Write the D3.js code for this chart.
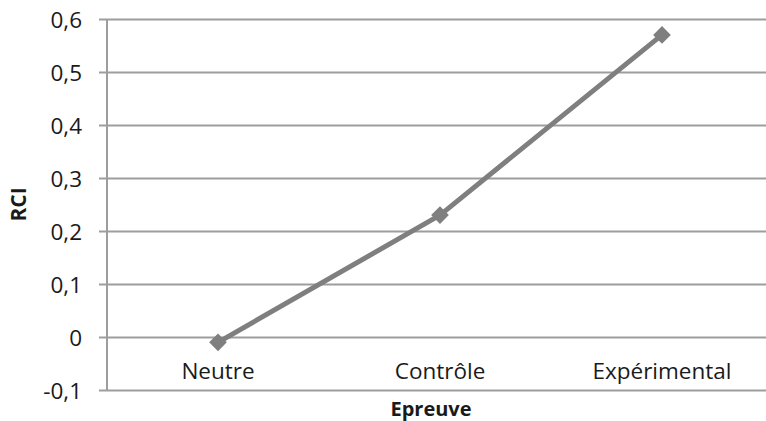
<!DOCTYPE html>
<html>
<head>
<meta charset="utf-8">
<script src="https://cdn.jsdelivr.net/npm/d3@7"></script>
<style>
  body { margin: 0; background: #fff; }
  svg { display: block; }
  text { font-family: "Open Sans", "Noto Sans", sans-serif; fill: #1a1a1a; }
</style>
</head>
<body>
<svg id="chart" width="766" height="421"></svg>
<script>
const categories = ["Neutre", "Contrôle", "Expérimental"];
const values = [-0.01, 0.23, 0.57];
const yTicks = [-0.1, 0, 0.1, 0.2, 0.3, 0.4, 0.5, 0.6];
const yTitle = "RCI";
const xTitle = "Epreuve";

const W = 766, H = 421;
const m = { left: 107, right: -7, top: 19, bottom: 31 };
const svg = d3.select("#chart");

const x = d3.scaleBand().domain(categories).range([m.left, W - m.right]).padding(0);
const y = d3.scaleLinear().domain([-0.1, 0.6]).range([H - m.bottom, m.top]);

const fmt = v => (Math.abs(v) < 1e-9 ? "0" : d3.format(".1f")(v).replace(".", ",").replace("−", "-"));

// gridlines + left ticks
svg.append("g").selectAll("line").data(yTicks).join("line")
  .attr("x1", m.left - 8).attr("x2", W)
  .attr("y1", d => Math.round(y(d)) + 0.5).attr("y2", d => Math.round(y(d)) + 0.5)
  .attr("stroke", "#9d9d9d").attr("stroke-width", 2);

// y axis line
svg.append("line")
  .attr("x1", m.left).attr("x2", m.left)
  .attr("y1", y(0.6)).attr("y2", y(-0.1) + 1)
  .attr("stroke", "#9d9d9d").attr("stroke-width", 2);

// y tick labels
svg.append("g").selectAll("text").data(yTicks).join("text")
  .attr("x", 82).attr("y", d => y(d))
  .attr("text-anchor", "end").attr("dominant-baseline", "central")
  .attr("font-size", 22.5)
  .text(fmt);

// x category labels
svg.append("g").selectAll("text").data(categories).join("text")
  .attr("x", d => x(d) + x.bandwidth() / 2).attr("y", y(0) + 33)
  .attr("text-anchor", "middle").attr("dominant-baseline", "central")
  .attr("font-size", 22.5)
  .text(d => d);

// axis titles
svg.append("text")
  .attr("transform", `translate(18,${(y(0.6) + y(-0.1)) / 2}) rotate(-90)`)
  .attr("text-anchor", "middle").attr("dominant-baseline", "central")
  .attr("font-size", 21).attr("font-weight", "bold")
  .text(yTitle);
svg.append("text")
  .attr("x", 431).attr("y", 408)
  .attr("text-anchor", "middle").attr("dominant-baseline", "central")
  .attr("font-size", 20).attr("font-weight", "bold")
  .text(xTitle);

// line
const pts = categories.map((c, i) => [x(c) + x.bandwidth() / 2, y(values[i])]);
svg.append("path")
  .attr("d", d3.line()(pts))
  .attr("fill", "none").attr("stroke", "#7f7f7f").attr("stroke-width", 5)
  .attr("stroke-linejoin", "round");

// markers
svg.append("g").selectAll("path").data(pts).join("path")
  .attr("transform", d => `translate(${d[0]},${d[1]})`)
  .attr("d", d3.symbol(d3.symbolDiamond2, 200)())
  .attr("fill", "#7f7f7f");
</script>
</body>
</html>
